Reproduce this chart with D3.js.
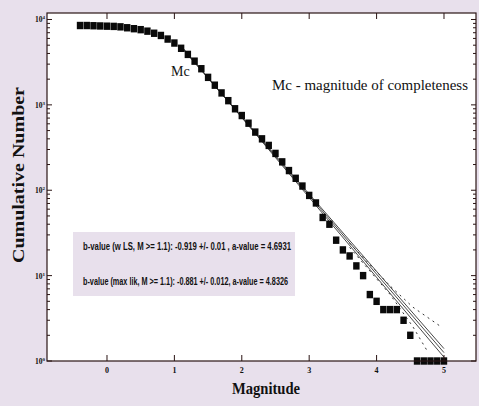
<!DOCTYPE html>
<html>
<head>
<meta charset="utf-8">
<script src="https://cdn.jsdelivr.net/npm/d3@7"></script>
<style>
body { margin: 0; background: #e8e0ec; }
svg { display: block; }
</style>
</head>
<body>
<svg id="mainsvg" width="479" height="406"></svg>
<script>
// magnitude bins and cumulative number of events
var magnitudes = [-0.4, -0.3, -0.2, -0.1, 0.0, 0.1, 0.2, 0.3, 0.4, 0.5, 0.6, 0.7, 0.8, 0.9,
	1.0, 1.1, 1.2, 1.3, 1.4, 1.5, 1.6, 1.7, 1.8, 1.9, 2.0, 2.1, 2.2, 2.3, 2.4, 2.5, 2.6, 2.7,
	2.8, 2.9, 3.0, 3.1, 3.2, 3.3, 3.4, 3.5, 3.6, 3.7, 3.8, 3.9, 4.0, 4.1, 4.2, 4.3, 4.4, 4.5,
	4.6, 4.7, 4.8, 4.9, 5.0];
var cumNumber = [8500, 8500, 8450, 8400, 8350, 8300, 8200, 8000, 7800, 7600, 7300, 6900, 6500, 5900,
	5300, 4600, 3900, 3250, 2650, 2100, 1700, 1380, 1120, 900, 750, 610, 480, 400, 335, 270, 215, 170,
	138, 112, 87, 71, 48, 40, 26, 20, 17, 13, 10, 6, 5, 4, 4, 4, 3, 2,
	1, 1, 1, 1, 1];

// fitted G-R lines: log N = a - b M
var fitLines = [
	{a: 4.6931, b: 0.919},
	{a: 4.7200, b: 0.935},
	{a: 4.6700, b: 0.905}
];
var fitRange = [1.1, 5.0];
// diverging dotted bounds at the tail (M, log N)
var upperBound = [[3.6, 1.38], [4.2, 0.88], [4.54, 0.63], [4.94, 0.41]];
var lowerBound = [[3.6, 1.33], [4.2, 0.78], [4.54, 0.40], [4.75, 0.12]];

var xTicks = [0, 1, 2, 3, 4, 5];
var yTicks = [0, 1, 2, 3, 4];
var infoLines = [
	'b-value (w LS, M >= 1.1): -0.919 +/- 0.01 , a-value = 4.6931',
	'b-value (max lik, M >= 1.1): -0.881 +/- 0.012, a-value = 4.8326'
];

var svg = d3.select('#mainsvg');
var pLeft = 47, pRight = 476, pTop = 13, pBottom = 361;

var x = d3.scaleLinear().domain([-0.89, 5.475]).range([pLeft, pRight]);
var y = d3.scaleLog().domain([1, Math.pow(10, 4.076)]).range([pBottom, pTop]);

svg.append('rect')
	.attr('x', pLeft).attr('y', pTop)
	.attr('width', pRight - pLeft).attr('height', pBottom - pTop)
	.attr('fill', '#ffffff');

// info box (scanned grey background)
svg.append('rect')
	.attr('x', 73).attr('y', 232)
	.attr('width', 222).attr('height', 64)
	.attr('fill', '#e8e0ec');

svg.selectAll('.info')
	.data(infoLines)
	.enter()
	.append('text')
	.attr('class', 'info')
	.attr('x', 83)
	.attr('y', function(d, i) {return 250 + i * 35;})
	.attr('textLength', function(d, i) {return i == 0 ? 208 : 205;})
	.attr('lengthAdjust', 'spacingAndGlyphs')
	.attr('font-family', 'Liberation Sans, Arial, sans-serif')
	.attr('font-weight', 'bold')
	.attr('font-size', 11.5)
	.attr('fill', '#111')
	.text(function(d) {return d;});

var line = d3.line()
	.x(function(d) {return x(d[0]);})
	.y(function(d) {return y(Math.pow(10, d[1]));});

var plot = svg.append('g');

fitLines.forEach(function(f) {
	var pts = [fitRange[0], fitRange[1]].map(function(m) {return [m, Math.max(0, f.a - f.b * m)];});
	plot.append('path')
		.attr('d', line(pts))
		.attr('stroke', '#333')
		.attr('stroke-width', 0.9)
		.attr('fill', 'none');
});

[upperBound, lowerBound].forEach(function(b) {
	plot.append('path')
		.attr('d', line(b))
		.attr('stroke', '#333')
		.attr('stroke-width', 1)
		.attr('stroke-dasharray', '2,4')
		.attr('fill', 'none');
});

var sq = 6.4;
plot.selectAll('rect.pt')
	.data(magnitudes)
	.enter()
	.append('rect')
	.attr('class', 'pt')
	.attr('x', function(d) {return x(d) - sq / 2;})
	.attr('y', function(d, i) {return y(cumNumber[i]) - sq / 2 - 0.5;})
	.attr('width', sq)
	.attr('height', sq + 1)
	.attr('fill', '#0a0a0a');

// frame with mirrored ticks on every side
var frame = svg.append('g').attr('stroke', '#2a1414').attr('fill', 'none');
frame.append('rect')
	.attr('x', pLeft).attr('y', pTop)
	.attr('width', pRight - pLeft).attr('height', pBottom - pTop)
	.attr('stroke-width', 1.2);

xTicks.forEach(function(t) {
	frame.append('line').attr('x1', x(t)).attr('x2', x(t)).attr('y1', pBottom).attr('y2', pBottom - 6);
	frame.append('line').attr('x1', x(t)).attr('x2', x(t)).attr('y1', pTop).attr('y2', pTop + 6);
});

yTicks.forEach(function(p) {
	for (var k = 1; k <= 9; k++) {
		var v = k * Math.pow(10, p);
		if (v > y.domain()[1]) break;
		var len = k == 1 ? 5 : 3;
		frame.append('line').attr('x1', pLeft).attr('x2', pLeft + len).attr('y1', y(v)).attr('y2', y(v));
		frame.append('line').attr('x1', pRight).attr('x2', pRight - len).attr('y1', y(v)).attr('y2', y(v));
	}
});

svg.selectAll('.xlab')
	.data(xTicks)
	.enter()
	.append('text')
	.attr('class', 'xlab')
	.attr('x', function(d) {return x(d);})
	.attr('y', 373)
	.attr('text-anchor', 'middle')
	.attr('font-family', 'Liberation Serif, serif')
	.attr('font-weight', 'bold')
	.attr('font-size', 8)
	.attr('fill', '#111')
	.text(function(d) {return d;});

var ylab = svg.selectAll('.ylab')
	.data(yTicks)
	.enter()
	.append('text')
	.attr('class', 'ylab')
	.attr('x', 35)
	.attr('y', function(d) {return y(Math.pow(10, d)) + 3;})
	.attr('font-family', 'Liberation Serif, serif')
	.attr('font-weight', 'bold')
	.attr('font-size', 7.5)
	.attr('fill', '#111');
ylab.append('tspan').text('10');
ylab.append('tspan')
	.attr('dy', -3)
	.attr('font-size', 5)
	.text(function(d) {return d;});

// annotations
svg.append('text')
	.attr('x', 171).attr('y', 76)
	.attr('font-family', 'Liberation Serif, serif')
	.attr('font-size', 14)
	.attr('fill', '#111')
	.text('Mc');

svg.append('text')
	.attr('x', 272).attr('y', 90)
	.attr('textLength', 196)
	.attr('lengthAdjust', 'spacingAndGlyphs')
	.attr('font-family', 'Liberation Serif, serif')
	.attr('font-size', 14.5)
	.attr('fill', '#111')
	.text('Mc - magnitude of completeness');

svg.append('text')
	.attr('x', 232).attr('y', 394)
	.attr('textLength', 68)
	.attr('lengthAdjust', 'spacingAndGlyphs')
	.attr('font-family', 'Liberation Serif, serif')
	.attr('font-weight', 'bold')
	.attr('font-size', 16)
	.attr('fill', '#111')
	.text('Magnitude');

svg.append('text')
	.attr('transform', 'translate(24,175) rotate(-90)')
	.attr('text-anchor', 'middle')
	.attr('textLength', 176)
	.attr('lengthAdjust', 'spacingAndGlyphs')
	.attr('font-family', 'Liberation Serif, serif')
	.attr('font-weight', 'bold')
	.attr('font-size', 17)
	.attr('fill', '#111')
	.text('Cumulative Number');
</script>
</body>
</html>
